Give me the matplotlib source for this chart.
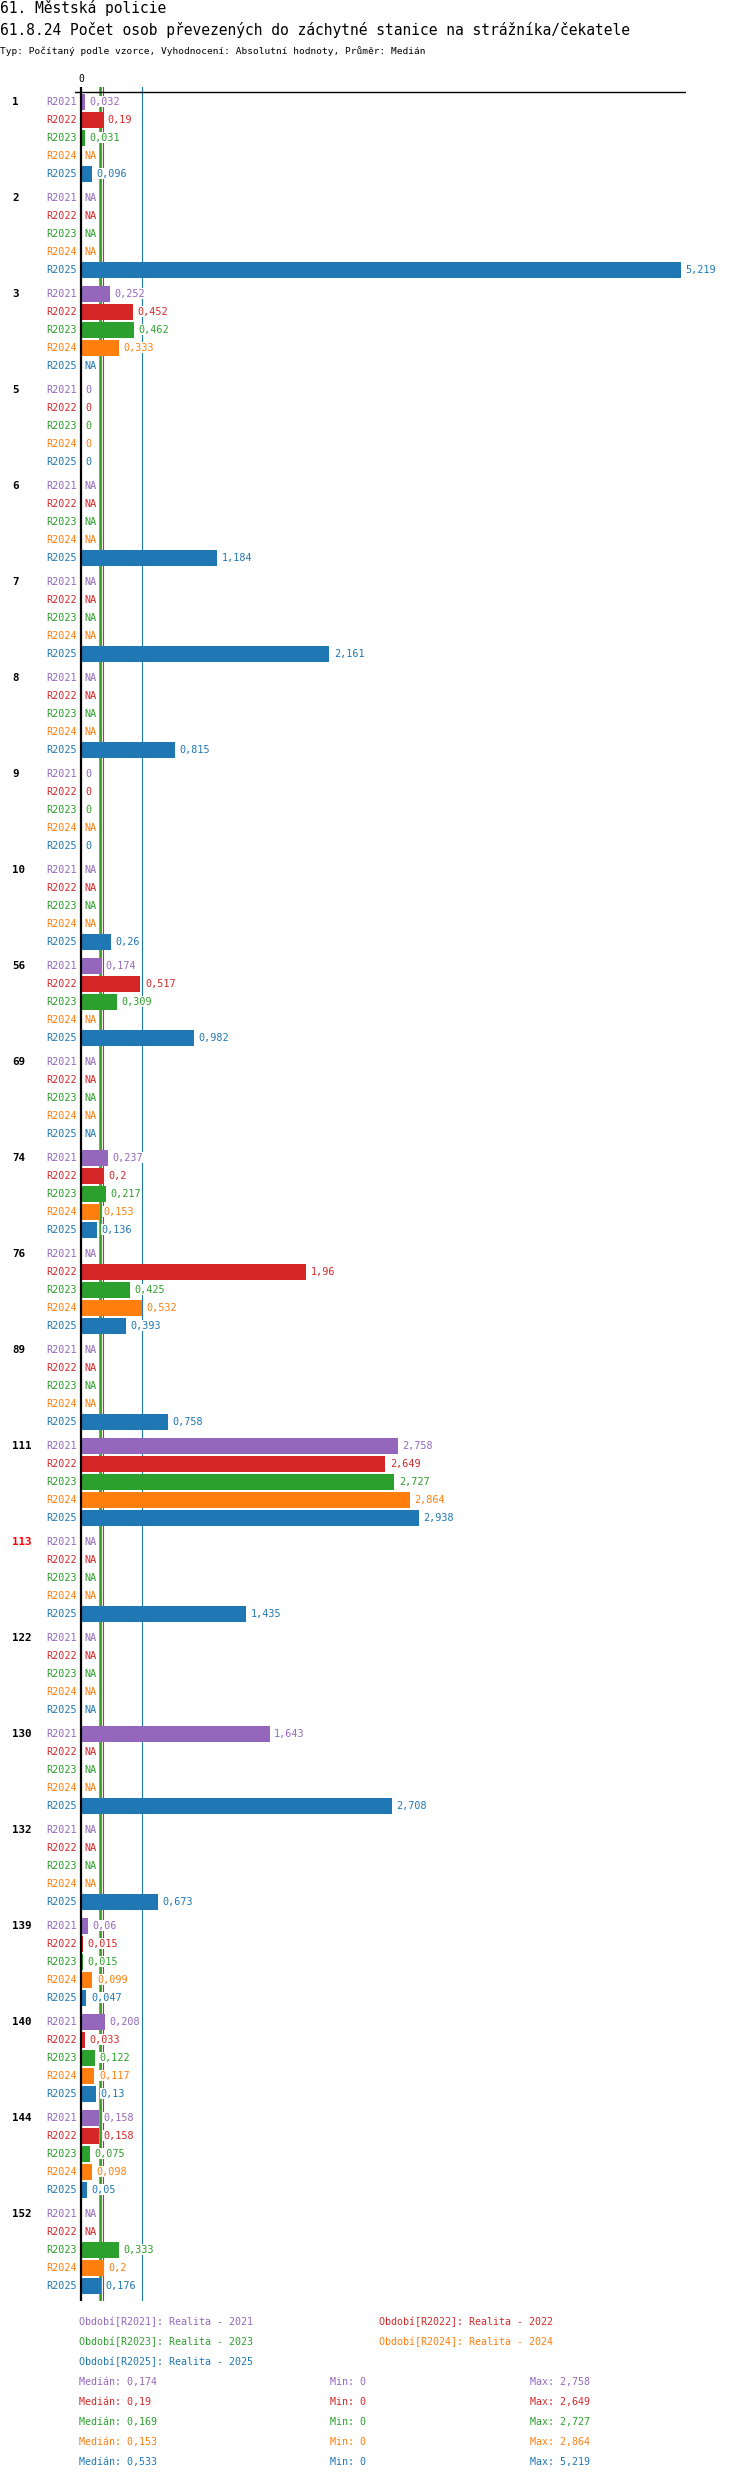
import numpy as np
import matplotlib
matplotlib.use("Agg")
import matplotlib.pyplot as plt
import matplotlib.transforms as mtransforms

NA = None

# data
groups = ["1", "2", "3", "5", "6", "7", "8", "9", "10", "56", "69", "74", "76",
          "89", "111", "113", "122", "130", "132", "139", "140", "144", "152"]
highlight = ["113"]
series = ["R2021", "R2022", "R2023", "R2024", "R2025"]
series_names = ["Realita - 2021", "Realita - 2022", "Realita - 2023",
                "Realita - 2024", "Realita - 2025"]
colors = ["#9467bd", "#d62728", "#2ca02c", "#ff7f0e", "#1f77b4"]

r2021 = [0.032, NA, 0.252, 0, NA, NA, NA, 0, NA, 0.174, NA, 0.237, NA,
         NA, 2.758, NA, NA, 1.643, NA, 0.06, 0.208, 0.158, NA]
r2022 = [0.19, NA, 0.452, 0, NA, NA, NA, 0, NA, 0.517, NA, 0.2, 1.96,
         NA, 2.649, NA, NA, NA, NA, 0.015, 0.033, 0.158, NA]
r2023 = [0.031, NA, 0.462, 0, NA, NA, NA, 0, NA, 0.309, NA, 0.217, 0.425,
         NA, 2.727, NA, NA, NA, NA, 0.015, 0.122, 0.075, 0.333]
r2024 = [NA, NA, 0.333, 0, NA, NA, NA, NA, NA, NA, NA, 0.153, 0.532,
         NA, 2.864, NA, NA, NA, NA, 0.099, 0.117, 0.098, 0.2]
r2025 = [0.096, 5.219, NA, 0, 1.184, 2.161, 0.815, 0, 0.26, 0.982, NA, 0.136, 0.393,
         0.758, 2.938, 1.435, NA, 2.708, 0.673, 0.047, 0.13, 0.05, 0.176]
values = [r2021, r2022, r2023, r2024, r2025]

medians = [0.174, 0.19, 0.169, 0.153, 0.533]
mins = [0, 0, 0, 0, 0]
maxs = [2.758, 2.649, 2.727, 2.864, 5.219]

title1 = "61. Městská policie"
title2 = "61.8.24 Počet osob převezených do záchytné stanice na strážníka/čekatele"
subtitle = "Typ: Počítaný podle vzorce, Vyhodnocení: Absolutní hodnoty, Průměr: Medián"


def fmt(v):
    return f"{v:g}".replace(".", ",")


W, H = 750, 2480
PX = 114.9          # pixels per unit on the x axis
ROW = 18.0          # pixels per bar row
GROUP = 5 + 6 / ROW  # one group in row units

plt.rcParams["font.family"] = ["DejaVu Sans Mono"]
fig = plt.figure(figsize=(W / 100, H / 100), dpi=100)

ax_l, ax_r, ax_t, ax_b = 75, 686, 87, 2301
ax = fig.add_axes([ax_l / W, 1 - ax_b / H, (ax_r - ax_l) / W, (ax_b - ax_t) / H])
first_row = 101.7
ax.set_xlim((ax_l - 81) / PX, (ax_r - 81) / PX)
ax.set_ylim((ax_b - first_row) / ROW, (ax_t - first_row) / ROW)
for s in ax.spines.values():
    s.set_visible(False)
ax.set_xticks([])
ax.set_yticks([])

ax.axhline((92 - first_row) / ROW, color="black", lw=1.0, zorder=5)
ax.axvline(0, color="black", lw=1.6, zorder=5)
ax.annotate("0", xy=(0, 1), xycoords=("data", "axes fraction"), xytext=(0, 2),
            textcoords="offset points", ha="center", va="bottom", fontsize=7)

# median lines
for i, m in enumerate(medians):
    ax.axvline(m, color=colors[i], lw=0.8, zorder=1)

lab_fs = 7.3
grp_tr = mtransforms.blended_transform_factory(fig.transFigure, ax.transData)
for g, name in enumerate(groups):
    y0 = g * GROUP
    ax.text(12 / W, y0, name, transform=grp_tr, ha="left", va="center",
            fontsize=7.8, fontweight="bold",
            color="red" if name in highlight else "black")
    for j in range(len(series)):
        y = y0 + j
        v = values[j][g]
        ax.text(-4 / PX, y, series[j], ha="right", va="center",
                fontsize=lab_fs, color=colors[j])
        if v is None:
            ax.text(3.5 / PX, y, "NA", ha="left", va="center", fontsize=lab_fs,
                    color=colors[j], zorder=3,
                    bbox=dict(facecolor="white", edgecolor="none", pad=0))
            continue
        ax.barh(y, v, height=16 / ROW, color=colors[j], zorder=2)
        ax.text(v + 4.5 / PX, y, fmt(v), ha="left", va="center", fontsize=lab_fs,
                color=colors[j], zorder=3,
                bbox=dict(facecolor="white", edgecolor="none", pad=0.3))

# titles
fig.text(0, 1 - 8.5 / H, title1, ha="left", va="center", fontsize=10.5)
fig.text(0, 1 - 30.5 / H, title2, ha="left", va="center", fontsize=10.5)
fig.text(0, 1 - 51.5 / H, subtitle, ha="left", va="center", fontsize=6.8)

# legend
leg_pos = [(79, 2322), (379, 2322), (79, 2342), (379, 2342), (79, 2362)]
for i, (x, y) in enumerate(leg_pos):
    fig.text(x / W, 1 - y / H, f"Období[{series[i]}]: {series_names[i]}",
             ha="left", va="center", fontsize=7.2, color=colors[i])

for i in range(len(series)):
    y = 1 - (2382 + 20 * i) / H
    fig.text(79 / W, y, f"Medián: {fmt(medians[i])}", ha="left", va="center",
             fontsize=7.2, color=colors[i])
    fig.text(330 / W, y, f"Min: {fmt(mins[i])}", ha="left", va="center",
             fontsize=7.2, color=colors[i])
    fig.text(530 / W, y, f"Max: {fmt(maxs[i])}", ha="left", va="center",
             fontsize=7.2, color=colors[i])

fig.savefig("out.png", dpi=100, facecolor="white")
